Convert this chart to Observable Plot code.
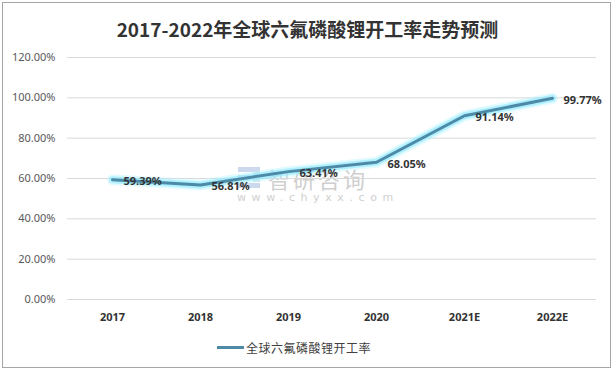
<!DOCTYPE html>
<html>
<head>
<meta charset="utf-8">
<script src="https://cdn.jsdelivr.net/npm/d3@7"></script>
<script src="https://cdn.jsdelivr.net/npm/@observablehq/plot@0.6"></script>
<style>
  body { margin: 0; background: #fff; }
  #wrap { position: relative; width: 615px; height: 371px; overflow: hidden; font-family: "Noto Sans CJK SC", "Noto Sans", sans-serif; }
  #frame { position: absolute; left: 2px; top: 2px; width: 607px; height: 364px; border: 1px solid #a6a6a6; }
  #title { position: absolute; left: 0; top: 16px; width: 615px; text-align: center; font-size: 19px; font-weight: bold; color: #333; line-height: 26px; }
  #chart { position: absolute; left: 0; top: 45px; }
  #legend { position: absolute; left: 217px; top: 338px; height: 18px; display: flex; align-items: center; font-size: 12px; color: #404040; letter-spacing: 0.5px; }
  #legend .sw { width: 27px; height: 3px; background: #4d8aa8; margin-right: 2px; }
  .wm { position: absolute; color: #cfcfcf; pointer-events: none; }
</style>
</head>
<body>
<div id="wrap">
  <div id="frame"></div>
  <div class="wm" style="left:238px;top:167px;width:22px;height:5px;background:#ccd9ec;"></div>
  <div class="wm" style="left:238px;top:175px;width:12px;height:5px;background:#ccd9ec;"></div>
  <div class="wm" style="left:238px;top:183px;width:22px;height:5px;background:#ccd9ec;"></div>
  <div class="wm" style="left:253px;top:172px;width:7px;height:10px;background:#dbe5f1;"></div>
  <div class="wm" style="left:268px;top:162px;font-size:22px;letter-spacing:3px;">智研咨询</div>
  <div class="wm" style="left:237px;top:191px;font-size:11px;letter-spacing:5.6px;font-family:'DejaVu Sans',sans-serif;">www.chyxx.com</div>
  <div id="title">2017-2022年全球六氟磷酸锂开工率走势预测</div>
  <div id="chart"></div>
  <div id="legend"><span class="sw"></span><span>全球六氟磷酸锂开工率</span></div>
</div>
<script>
const years = ["2017", "2018", "2019", "2020", "2021E", "2022E"];
const rates = [0.5939, 0.5681, 0.6341, 0.6805, 0.9114, 0.9977];
const yTicks = [0, 0.2, 0.4, 0.6, 0.8, 1.0, 1.2];

const data = years.map((y, i) => ({year: y, rate: rates[i]}));

const chart = Plot.plot({
  width: 615,
  height: 290,
  marginLeft: 67,
  marginRight: 19,
  marginTop: 12,
  marginBottom: 36,
  style: {fontFamily: "'Noto Sans', sans-serif", background: "transparent", overflow: "visible"},
  x: {type: "point", domain: years, padding: 0.5, label: null},
  y: {domain: [0, 1.2], ticks: yTicks, label: null},
  marks: [
    Plot.gridY(yTicks, {stroke: "#d9d9d9", strokeOpacity: 1, strokeWidth: 1}),
    Plot.axisY(yTicks, {tickSize: 0, tickPadding: 12, tickFormat: d3.format(".2%"), fontSize: 11, fill: "#595959", label: null}),
    Plot.axisX({tickSize: 0, tickPadding: 14, fontSize: 11, fontWeight: "bold", fill: "#333", label: null}),
    Plot.line(data, {x: "year", y: "rate", stroke: "#aef3ff", strokeWidth: 11, strokeOpacity: 0.35, strokeLinejoin: "round", strokeLinecap: "round"}),
    Plot.line(data, {x: "year", y: "rate", stroke: "#8eeafd", strokeWidth: 7, strokeOpacity: 0.6, strokeLinejoin: "round", strokeLinecap: "round"}),
    Plot.line(data, {x: "year", y: "rate", stroke: "#4d8aa8", strokeWidth: 3, strokeLinejoin: "round", strokeLinecap: "round"}),
    Plot.text(data, {x: "year", y: "rate", text: d => d3.format(".2%")(d.rate), dx: 11, dy: 2, textAnchor: "start", fontSize: 11, fontWeight: "bold", fill: "#333"})
  ]
});
document.getElementById("chart").appendChild(chart);
</script>
</body>
</html>
